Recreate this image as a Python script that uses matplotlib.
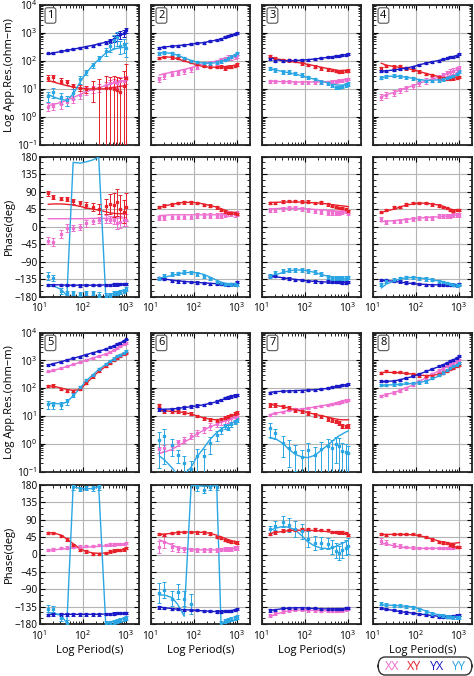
import numpy as np
import matplotlib
matplotlib.use("Agg")
import matplotlib.pyplot as plt
from matplotlib.patches import FancyBboxPatch
from matplotlib.ticker import MultipleLocator, LogLocator, NullFormatter

plt.rcParams["font.family"] = ["Open Sans", "DejaVu Sans"]
plt.rcParams["font.size"] = 7.5

# periods (s) shared by all stations
PERIODS = [16, 21, 32, 43, 60, 87, 117, 170, 234, 340, 427, 525, 617, 741, 891, 1024]
STATIONS = ["1", "2", "3", "4", "5", "6", "7", "8"]

# log10 apparent resistivity, observed / model, one row per station
rho_xx_obs = [
    [0.37, 0.40, 0.45, 0.55, 0.65, 0.80, 0.95, 1.00, 1.05, 1.15, 1.20, 1.25, 1.20, 1.30, 1.30, 1.35],
    [1.35, 1.45, 1.55, 1.58, 1.65, 1.72, 1.80, 1.88, 1.93, 1.97, 2.03, 2.08, 2.12, 2.15, 2.17, 2.20],
    [1.28, 1.28, 1.26, 1.26, 1.25, 1.25, 1.24, 1.24, 1.24, 1.25, 1.26, 1.28, 1.30, 1.32, 1.33, 1.36],
    [0.73, 0.79, 0.87, 0.96, 1.02, 1.10, 1.20, 1.29, 1.35, 1.42, 1.50, 1.56, 1.62, 1.65, 1.70, 1.74],
    [2.60, 2.65, 2.72, 2.78, 2.85, 2.93, 3.00, 3.08, 3.15, 3.22, 3.30, 3.38, 3.44, 3.50, 3.57, 3.63],
    [-0.20, -0.15, -0.10, 0.05, 0.15, 0.28, 0.40, 0.52, 0.63, 0.72, 0.80, 0.85, 0.88, 0.92, 0.95, 1.00],
    [1.04, 1.10, 1.15, 1.22, 1.24, 1.24, 1.28, 1.32, 1.36, 1.40, 1.43, 1.46, 1.48, 1.52, 1.55, 1.58],
    [1.72, 1.76, 1.84, 1.91, 2.00, 2.12, 2.24, 2.36, 2.50, 2.63, 2.70, 2.80, 2.86, 2.92, 2.96, 3.00],
]
rho_xx_mod = [
    [0.40, 0.45, 0.52, 0.60, 0.70, 0.80, 0.90, 0.98, 1.05, 1.12, 1.17, 1.21, 1.24, 1.27, 1.30, 1.32],
    [1.50, 1.55, 1.60, 1.65, 1.70, 1.76, 1.83, 1.90, 1.95, 2.00, 2.05, 2.08, 2.12, 2.15, 2.18, 2.20],
    [1.28, 1.27, 1.26, 1.26, 1.25, 1.25, 1.25, 1.25, 1.25, 1.26, 1.27, 1.29, 1.31, 1.32, 1.34, 1.36],
    [0.72, 0.80, 0.88, 0.96, 1.04, 1.12, 1.20, 1.28, 1.35, 1.42, 1.48, 1.54, 1.59, 1.64, 1.69, 1.73],
    [2.58, 2.64, 2.71, 2.78, 2.85, 2.93, 3.00, 3.08, 3.15, 3.22, 3.29, 3.36, 3.42, 3.49, 3.56, 3.62],
    [-0.34, -0.30, -0.20, -0.08, 0.05, 0.20, 0.35, 0.48, 0.60, 0.70, 0.78, 0.83, 0.87, 0.91, 0.95, 0.98],
    [1.05, 1.10, 1.15, 1.20, 1.23, 1.25, 1.28, 1.32, 1.36, 1.40, 1.43, 1.46, 1.49, 1.52, 1.55, 1.58],
    [1.72, 1.77, 1.84, 1.92, 2.01, 2.12, 2.24, 2.36, 2.49, 2.62, 2.70, 2.78, 2.85, 2.91, 2.96, 3.01],
]
rho_xy_obs = [
    [1.40, 1.42, 1.30, 1.25, 1.10, 1.05, 1.00, 1.05, 1.02, 1.05, 1.02, 1.00, 0.95, 0.90, 1.10, 1.40],
    [2.10, 2.15, 2.13, 2.10, 2.03, 1.97, 1.90, 1.82, 1.80, 1.78, 1.80, 1.74, 1.78, 1.80, 1.83, 1.88],
    [2.18, 2.10, 2.04, 2.02, 2.00, 1.92, 1.86, 1.80, 1.74, 1.70, 1.68, 1.64, 1.62, 1.63, 1.64, 1.66],
    [1.74, 1.82, 1.80, 1.82, 1.74, 1.68, 1.62, 1.54, 1.50, 1.42, 1.38, 1.37, 1.37, 1.38, 1.40, 1.44],
    [2.08, 2.09, 1.96, 1.91, 1.90, 1.96, 2.20, 2.42, 2.62, 2.80, 2.92, 3.02, 3.10, 3.16, 3.22, 3.26],
    [1.38, 1.17, 1.16, 1.16, 1.12, 1.08, 1.00, 0.92, 0.87, 0.84, 0.88, 0.93, 0.97, 1.02, 1.08, 1.12],
    [1.40, 1.40, 1.34, 1.28, 1.22, 1.16, 1.10, 1.04, 0.98, 0.90, 0.86, 0.80, 0.74, 0.64, 0.62, 0.64],
    [2.54, 2.60, 2.57, 2.57, 2.54, 2.52, 2.44, 2.42, 2.44, 2.51, 2.56, 2.63, 2.68, 2.72, 2.78, 2.84],
]
rho_xy_mod = [
    [1.30, 1.25, 1.17, 1.12, 1.07, 1.03, 1.01, 1.00, 1.00, 1.01, 1.03, 1.05, 1.07, 1.09, 1.12, 1.15],
    [2.10, 2.15, 2.13, 2.07, 2.00, 1.93, 1.86, 1.80, 1.78, 1.78, 1.79, 1.80, 1.82, 1.83, 1.85, 1.87],
    [2.15, 2.08, 2.04, 2.00, 1.96, 1.92, 1.88, 1.83, 1.78, 1.73, 1.70, 1.68, 1.66, 1.66, 1.67, 1.68],
    [1.92, 1.85, 1.80, 1.77, 1.74, 1.69, 1.63, 1.56, 1.50, 1.45, 1.42, 1.41, 1.41, 1.42, 1.43, 1.44],
    [2.08, 2.07, 2.00, 1.95, 1.92, 1.95, 2.15, 2.40, 2.60, 2.78, 2.90, 3.00, 3.08, 3.15, 3.22, 3.27],
    [1.20, 1.18, 1.16, 1.15, 1.12, 1.07, 1.00, 0.93, 0.88, 0.86, 0.87, 0.90, 0.95, 1.00, 1.05, 1.10],
    [1.42, 1.38, 1.33, 1.28, 1.22, 1.17, 1.12, 1.06, 1.01, 0.96, 0.92, 0.89, 0.87, 0.86, 0.86, 0.86],
    [2.56, 2.57, 2.56, 2.55, 2.53, 2.50, 2.47, 2.45, 2.46, 2.50, 2.55, 2.60, 2.65, 2.70, 2.76, 2.82],
]
rho_yx_obs = [
    [2.27, 2.30, 2.35, 2.38, 2.42, 2.46, 2.50, 2.55, 2.60, 2.66, 2.72, 2.80, 2.88, 2.95, 3.00, 3.10],
    [2.48, 2.51, 2.53, 2.55, 2.57, 2.60, 2.63, 2.66, 2.70, 2.75, 2.80, 2.86, 2.88, 2.92, 2.95, 2.99],
    [2.06, 2.00, 2.01, 2.02, 2.02, 2.03, 2.04, 2.06, 2.10, 2.13, 2.15, 2.18, 2.19, 2.21, 2.23, 2.24],
    [1.64, 1.65, 1.67, 1.70, 1.74, 1.80, 1.86, 1.92, 1.98, 2.01, 2.06, 2.09, 2.13, 2.16, 2.19, 2.24],
    [2.84, 2.88, 2.95, 3.00, 3.07, 3.13, 3.20, 3.27, 3.33, 3.40, 3.47, 3.53, 3.58, 3.63, 3.68, 3.75],
    [1.24, 1.22, 1.24, 1.28, 1.31, 1.34, 1.37, 1.40, 1.46, 1.52, 1.58, 1.64, 1.67, 1.70, 1.73, 1.76],
    [1.84, 1.87, 1.89, 1.91, 1.91, 1.91, 1.94, 1.94, 1.96, 2.00, 2.03, 2.06, 2.08, 2.10, 2.12, 2.15],
    [2.24, 2.24, 2.26, 2.30, 2.36, 2.42, 2.50, 2.60, 2.68, 2.78, 2.84, 2.90, 2.96, 3.02, 3.08, 3.16],
]
rho_yx_mod = [
    [2.25, 2.29, 2.34, 2.38, 2.42, 2.47, 2.51, 2.56, 2.61, 2.67, 2.72, 2.78, 2.84, 2.91, 2.98, 3.05],
    [2.47, 2.50, 2.53, 2.55, 2.57, 2.60, 2.63, 2.66, 2.70, 2.75, 2.79, 2.83, 2.87, 2.91, 2.95, 2.98],
    [2.15, 2.05, 2.01, 2.01, 2.02, 2.03, 2.05, 2.07, 2.10, 2.13, 2.15, 2.17, 2.19, 2.21, 2.23, 2.25],
    [1.63, 1.65, 1.68, 1.71, 1.75, 1.80, 1.86, 1.92, 1.97, 2.02, 2.06, 2.09, 2.12, 2.16, 2.20, 2.24],
    [2.83, 2.88, 2.95, 3.01, 3.07, 3.14, 3.20, 3.27, 3.33, 3.40, 3.46, 3.52, 3.57, 3.63, 3.69, 3.75],
    [1.24, 1.24, 1.25, 1.27, 1.30, 1.33, 1.36, 1.40, 1.45, 1.51, 1.57, 1.62, 1.66, 1.70, 1.73, 1.76],
    [1.85, 1.87, 1.89, 1.90, 1.91, 1.92, 1.93, 1.94, 1.96, 1.99, 2.02, 2.05, 2.08, 2.10, 2.12, 2.15],
    [2.23, 2.24, 2.26, 2.30, 2.36, 2.42, 2.50, 2.59, 2.68, 2.77, 2.84, 2.90, 2.96, 3.02, 3.08, 3.15],
]
rho_yy_obs = [
    [0.75, 0.90, 0.70, 0.62, 0.85, 1.35, 1.60, 1.85, 2.10, 2.35, 2.55, 2.75, 2.85, 2.55, 2.60, 2.45],
    [2.27, 2.30, 2.28, 2.20, 2.10, 2.00, 1.95, 1.92, 1.92, 1.95, 2.00, 2.05, 2.10, 2.15, 2.20, 2.28],
    [1.74, 1.68, 1.62, 1.62, 1.56, 1.50, 1.42, 1.35, 1.26, 1.20, 1.14, 1.06, 1.06, 1.10, 1.14, 1.18],
    [1.40, 1.46, 1.47, 1.46, 1.42, 1.38, 1.32, 1.29, 1.30, 1.32, 1.35, 1.38, 1.42, 1.46, 1.54, 1.62],
    [1.42, 1.40, 1.40, 1.52, 1.76, 2.03, 2.28, 2.48, 2.68, 2.86, 2.96, 3.06, 3.14, 3.20, 3.26, 3.32],
    [0.14, 0.26, -0.04, -0.40, -0.70, -0.90, -0.46, -0.45, 0.04, 0.32, 0.50, 0.62, 0.58, 0.70, 0.78, 0.86],
    [0.56, 0.38, 0.04, -0.14, -0.30, -0.48, -0.24, -0.40, -0.20, -0.10, -0.15, 0.00, -0.08, -0.25, -0.30, -0.35],
    [2.12, 2.12, 2.13, 2.14, 2.18, 2.18, 2.21, 2.24, 2.36, 2.48, 2.56, 2.66, 2.72, 2.78, 2.84, 2.90],
]
rho_yy_mod = [
    [0.80, 0.72, 0.62, 0.60, 0.82, 1.25, 1.55, 1.85, 2.05, 2.28, 2.36, 2.42, 2.45, 2.47, 2.49, 2.50],
    [2.28, 2.30, 2.27, 2.20, 2.11, 2.02, 1.96, 1.92, 1.92, 1.94, 1.98, 2.03, 2.08, 2.14, 2.20, 2.26],
    [1.72, 1.68, 1.62, 1.58, 1.53, 1.47, 1.41, 1.35, 1.28, 1.22, 1.18, 1.15, 1.14, 1.14, 1.15, 1.17],
    [1.40, 1.45, 1.46, 1.45, 1.42, 1.38, 1.34, 1.31, 1.31, 1.33, 1.36, 1.39, 1.43, 1.47, 1.53, 1.60],
    [1.45, 1.45, 1.43, 1.50, 1.72, 2.00, 2.25, 2.47, 2.67, 2.85, 2.96, 3.06, 3.13, 3.20, 3.26, 3.32],
    [-0.44, -0.58, -0.88, -1.15, -1.10, -0.85, -0.48, -0.16, 0.14, 0.40, 0.52, 0.62, 0.67, 0.74, 0.80, 0.86],
    [0.20, 0.18, 0.00, -0.20, -0.38, -0.48, -0.50, -0.42, -0.25, -0.05, 0.08, 0.20, 0.28, 0.35, 0.42, 0.46],
    [2.10, 2.11, 2.12, 2.13, 2.15, 2.17, 2.20, 2.25, 2.33, 2.43, 2.52, 2.60, 2.66, 2.72, 2.80, 2.87],
]

# phase (deg), observed / model
ph_xx_obs = [
    [-36, -39, -20, -4, -3, -2, 8, 15, 17, 20, 18, 17, 8, 12, 17, 17],
    [22, 22, 25, 25, 25, 25, 28, 28, 28, 28, 28, 30, 34, 32, 31, 34],
    [43, 43, 45, 47, 47, 45, 43, 39, 37, 35, 35, 35, 35, 37, 40, 35],
    [20, 11, 13, 15, 17, 20, 21, 23, 23, 26, 27, 28, 28, 30, 30, 30],
    [12, 13, 16, 18, 20, 21, 22, 22, 25, 25, 26, 26, 27, 28, 28, 30],
    [20, 32, 20, 15, 13, 13, 12, 12, 12, 12, 13, 14, 15, 15, 16, 17],
    [-157, -152, -148, -144, -142, -142, -144, -145, -146, -146, -146, -146, -145, -144, -142, -139],
    [36, 31, 25, 22, 20, 18, 16, 16, 16, 16, 16, 16, 17, 18, 20, 20],
]
ph_xx_mod = [
    [20, 20, 20, 20, 20, 20, 20, 21, 21, 21, 21, 22, 22, 22, 22, 23],
    [28, 29, 30, 30, 30, 30, 30, 30, 30, 30, 30, 30, 31, 32, 32, 33],
    [45, 46, 47, 47, 47, 46, 45, 44, 43, 42, 41, 40, 39, 38, 37, 36],
    [12, 14, 15, 17, 18, 20, 21, 23, 24, 25, 26, 27, 28, 29, 30, 30],
    [11, 12, 14, 15, 17, 18, 19, 20, 21, 22, 23, 24, 25, 26, 27, 28],
    [38, 33, 24, 18, 15, 13, 12, 12, 12, 12, 12, 13, 14, 15, 15, 16],
    [-161, -155, -149, -146, -144, -144, -145, -145, -146, -146, -146, -145, -145, -144, -143, -142],
    [30, 27, 22, 20, 18, 17, 16, 16, 16, 16, 16, 17, 17, 18, 18, 19],
]
ph_xy_obs = [
    [85, 75, 72, 70, 65, 60, 55, 50, 45, 52, 58, 55, 62, 45, 38, 50],
    [50, 54, 57, 60, 62, 62, 60, 56, 54, 49, 43, 39, 34, 34, 34, 33],
    [60, 60, 64, 66, 66, 64, 64, 60, 62, 57, 54, 51, 48, 48, 45, 39],
    [37, 43, 49, 51, 57, 60, 60, 60, 57, 54, 51, 47, 43, 40, 43, 43],
    [56, 56, 48, 39, 25, 12, 8, 2, 2, 4, 8, 10, 12, 12, 13, 16],
    [53, 50, 55, 57, 59, 59, 57, 57, 54, 46, 42, 37, 35, 33, 32, 31],
    [53, 57, 62, 63, 63, 65, 65, 65, 63, 63, 59, 59, 57, 57, 55, 50],
    [53, 50, 53, 53, 53, 53, 50, 46, 39, 33, 31, 29, 25, 23, 20, 20],
]
ph_xy_mod = [
    [57, 58, 58, 57, 55, 52, 48, 45, 42, 38, 35, 34, 33, 33, 33, 33],
    [50, 53, 57, 60, 62, 62, 61, 58, 54, 50, 46, 42, 39, 37, 36, 35],
    [62, 62, 63, 63, 63, 63, 62, 61, 60, 58, 56, 55, 54, 53, 52, 51],
    [36, 40, 45, 50, 55, 58, 60, 60, 58, 55, 52, 48, 45, 43, 43, 43],
    [57, 56, 50, 40, 28, 15, 8, 4, 3, 4, 6, 8, 10, 11, 13, 15],
    [52, 53, 55, 57, 58, 58, 58, 57, 55, 50, 46, 42, 39, 36, 34, 32],
    [55, 57, 60, 62, 63, 63, 63, 62, 61, 59, 58, 57, 56, 55, 54, 53],
    [52, 52, 52, 52, 52, 51, 49, 45, 40, 35, 32, 30, 29, 29, 30, 31],
]
ph_yx_obs = [
    [-150, -150, -151, -151, -151, -152, -151, -151, -151, -150, -150, -149, -149, -148, -148, -147],
    [-133, -135, -140, -141, -142, -142, -144, -146, -147, -148, -148, -148, -150, -148, -147, -143],
    [-128, -128, -133, -134, -137, -137, -140, -141, -143, -141, -143, -143, -143, -144, -144, -143],
    [-137, -137, -140, -141, -144, -146, -148, -150, -150, -150, -150, -150, -151, -151, -150, -148],
    [-157, -155, -155, -155, -155, -155, -155, -155, -155, -154, -154, -153, -152, -152, -152, -151],
    [-137, -139, -142, -142, -144, -144, -144, -146, -147, -148, -148, -147, -146, -146, -144, -142],
    [-145, -143, -139, -138, -138, -138, -139, -139, -141, -141, -141, -141, -141, -141, -139, -138],
    [-139, -142, -144, -148, -150, -152, -154, -157, -159, -161, -161, -161, -161, -159, -158, -157],
]
ph_yx_mod = [
    [-150, -150, -150, -151, -151, -151, -151, -151, -151, -150, -150, -150, -149, -149, -148, -148],
    [-133, -135, -138, -140, -141, -143, -144, -145, -146, -147, -148, -148, -148, -148, -147, -146],
    [-128, -129, -132, -134, -136, -138, -140, -141, -142, -143, -143, -144, -144, -144, -144, -144],
    [-138, -139, -141, -143, -145, -147, -148, -149, -150, -150, -150, -150, -150, -150, -150, -149],
    [-155, -155, -155, -155, -155, -155, -155, -155, -155, -154, -154, -153, -153, -152, -152, -151],
    [-136, -138, -140, -142, -143, -144, -145, -146, -147, -148, -148, -147, -146, -145, -144, -143],
    [-145, -143, -140, -139, -138, -138, -139, -140, -141, -141, -141, -141, -141, -141, -140, -139],
    [-140, -142, -145, -148, -150, -152, -154, -156, -158, -160, -160, -160, -160, -160, -159, -158],
]
ph_yy_obs = [
    [-128, -133, -165, -172, -172, -173, -172, -170, -175, -178, -176, -172, -170, -168, -165, -160],
    [-133, -127, -122, -120, -117, -118, -122, -128, -133, -143, -146, -148, -148, -148, -148, -150],
    [-128, -120, -114, -111, -111, -111, -114, -117, -122, -129, -133, -133, -133, -133, -133, -131],
    [-148, -140, -137, -133, -131, -131, -133, -135, -137, -141, -143, -146, -148, -150, -151, -150],
    [-140, -142, -165, -178, 174, 170, 172, 171, 174, -178, -176, -174, -172, -170, -168, -165],
    [-100, -92, -114, -96, -114, -128, 174, 168, 175, 176, -178, -172, -170, -168, -165, -162],
    [65, 75, 85, 76, 66, 60, 40, 30, 30, 28, 20, 10, 5, 12, 18, 22],
    [-128, -130, -133, -133, -135, -137, -142, -148, -154, -157, -159, -161, -161, -163, -163, -163],
]
ph_yy_mod = [
    [-152, -153, -162, -178, 165, 163, 166, 171, 178, -178, -175, -172, -170, -168, -165, -162],
    [-133, -130, -126, -122, -119, -118, -119, -123, -130, -138, -143, -146, -148, -148, -148, -148],
    [-128, -124, -118, -114, -112, -112, -114, -118, -123, -128, -131, -133, -134, -134, -134, -134],
    [-158, -148, -140, -135, -132, -131, -132, -134, -137, -140, -143, -146, -148, -149, -150, -150],
    [-150, -152, -158, -178, 176, 171, 170, 171, 176, -179, -176, -173, -170, -168, -166, -163],
    [-105, -105, -112, -130, -160, 178, 178, 177, 177, 178, -178, -176, -174, -172, -170, -168],
    [63, 68, 73, 70, 64, 48, 33, 22, 17, 15, 17, 21, 25, 29, 33, 37],
    [-130, -131, -132, -133, -134, -136, -140, -146, -152, -156, -158, -160, -160, -160, -160, -160],
]

# relative errors of app. resistivity (fraction of rho); scalar = same at all periods
err_rho_xx = [0.3, 0.2, 0.12, 0.22, 0.06, 0.25, 0.1, 0.12]
err_rho_xy = [
    [0.25, 0.25, 0.2, 0.2, 0.2, 0.25, 0.3, 0.7, 1.2, 1.5, 1.6, 1.8, 2.0, 2.2, 2.5, 2.0],
    0.1, 0.1, 0.1, 0.1, 0.12, 0.15, 0.08,
]
err_rho_yx = [
    [0.08, 0.08, 0.08, 0.08, 0.08, 0.08, 0.08, 0.08, 0.1, 0.1, 0.15, 0.25, 0.3, 0.3, 0.3, 0.2],
    0.08, 0.08, 0.08, 0.08, 0.1, 0.08, 0.08,
]
err_rho_yy = [
    [0.4, 0.4, 0.4, 0.4, 0.4, 0.3, 0.2, 0.2, 0.2, 0.3, 0.4, 0.5, 0.5, 0.5, 0.5, 0.5],
    0.12, 0.15, 0.12,
    [0.3, 0.3, 0.3, 0.25, 0.15, 0.1, 0.1, 0.1, 0.1, 0.1, 0.1, 0.1, 0.1, 0.1, 0.1, 0.1],
    [0.9, 0.9, 0.6, 0.5, 0.8, 0.9, 0.8, 0.8, 0.6, 0.4, 0.3, 0.2, 0.2, 0.2, 0.15, 0.15],
    [0.5, 0.4, 0.7, 0.8, 0.8, 0.8, 0.9, 0.9, 0.9, 0.9, 0.9, 0.8, 0.9, 0.9, 0.9, 0.9],
    0.1,
]
# phase errors (deg)
err_ph_xx = [
    [10, 10, 10, 10, 8, 8, 8, 8, 8, 10, 10, 10, 15, 15, 15, 15],
    6, 5, 5, 3,
    [15, 15, 10, 8, 6, 5, 5, 5, 5, 5, 5, 5, 5, 5, 5, 5],
    4,
    [8, 6, 5, 4, 3, 3, 3, 3, 3, 3, 3, 3, 3, 3, 3, 3],
]
err_ph_xy = [
    [6, 5, 5, 5, 6, 6, 8, 10, 12, 20, 25, 30, 35, 35, 30, 35],
    3, 3, 3, 3, 3, 3, 3,
]
err_ph_yx = [3, 3, 3, 3, 3, 3, 3, 3]
err_ph_yy = [
    [10, 8, 8, 5, 5, 5, 5, 5, 6, 6, 5, 5, 5, 5, 5, 5],
    4, 5, 4,
    [8, 8, 8, 8, 6, 6, 6, 6, 6, 5, 5, 5, 5, 5, 5, 5],
    [25, 20, 20, 20, 20, 25, 10, 10, 8, 8, 5, 5, 5, 5, 5, 5],
    [10, 12, 15, 18, 20, 20, 20, 18, 15, 15, 18, 20, 18, 20, 20, 20],
    4,
]

COMPONENTS = ["XX", "XY", "YX", "YY"]
COLORS = {"XX": "#ee6fd0", "XY": "#e8202a", "YX": "#1a1ac8", "YY": "#2aa6e4"}

W, H = 474, 676
COL_LEFT = [39.5, 150.5, 261.5, 372.5]
COL_W = 99.5
ROWS = [(5, 145), (156.5, 296.5), (332.5, 471.5), (485, 624)]
XLIM = (10, 2000)


def px_axes(fig, left, top, bottom):
    return fig.add_axes([left / W, 1 - bottom / H, COL_W / W, (bottom - top) / H])


def style_axes(ax):
    ax.set_xscale("log")
    ax.set_xlim(*XLIM)
    ax.xaxis.set_major_locator(LogLocator(base=10, numticks=10))
    ax.xaxis.set_minor_locator(LogLocator(base=10, subs=np.arange(2, 10), numticks=10))
    ax.xaxis.set_minor_formatter(NullFormatter())
    ax.grid(True, which="major", color="#b4b4b4", lw=0.8)
    ax.set_axisbelow(True)
    ax.tick_params(which="both", direction="in", top=True, right=True, labelsize=7.2)
    ax.tick_params(axis="x", pad=3.5)
    ax.tick_params(axis="y", pad=1.5)
    ax.tick_params(which="major", length=3.5, width=0.8)
    ax.tick_params(which="minor", length=2, width=0.6)
    for s in ax.spines.values():
        s.set_linewidth(1.3)
        s.set_color("#222222")


def as_list(e):
    return np.full(len(PERIODS), e, dtype=float) if np.isscalar(e) else np.asarray(e, float)


T = np.array(PERIODS, dtype=float)
rho_sets = {
    "XX": (rho_xx_obs, rho_xx_mod, err_rho_xx),
    "XY": (rho_xy_obs, rho_xy_mod, err_rho_xy),
    "YX": (rho_yx_obs, rho_yx_mod, err_rho_yx),
    "YY": (rho_yy_obs, rho_yy_mod, err_rho_yy),
}
ph_sets = {
    "XX": (ph_xx_obs, ph_xx_mod, err_ph_xx),
    "XY": (ph_xy_obs, ph_xy_mod, err_ph_xy),
    "YX": (ph_yx_obs, ph_yx_mod, err_ph_yx),
    "YY": (ph_yy_obs, ph_yy_mod, err_ph_yy),
}

fig = plt.figure(figsize=(W / 100, H / 100), dpi=100)

for k, name in enumerate(STATIONS):
    col = k % 4
    block = k // 4
    top_r, bot_r = ROWS[2 * block]
    top_p, bot_p = ROWS[2 * block + 1]
    ax_r = px_axes(fig, COL_LEFT[col], top_r, bot_r)
    ax_p = px_axes(fig, COL_LEFT[col], top_p, bot_p)
    style_axes(ax_r)
    style_axes(ax_p)

    for comp in COMPONENTS:
        c = COLORS[comp]
        obs, mod, err = rho_sets[comp]
        rho = 10.0 ** np.array(obs[k])
        e = as_list(err[k])
        lo = rho - np.maximum(rho * (1 - e), 1e-4)
        hi = rho * e
        ax_r.plot(T, 10.0 ** np.array(mod[k]), color=c, lw=1.0, zorder=3)
        ax_r.errorbar(T, rho, yerr=[lo, hi], fmt="s", ms=1.8, color=c, mec=c,
                      elinewidth=0.7, capsize=1.3, capthick=0.7, zorder=4)

        obs, mod, err = ph_sets[comp]
        ax_p.plot(T, mod[k], color=c, lw=1.0, zorder=3)
        ax_p.errorbar(T, obs[k], yerr=as_list(err[k]), fmt="s", ms=1.8, color=c, mec=c,
                      elinewidth=0.7, capsize=1.3, capthick=0.7, zorder=4)

    ax_r.set_yscale("log")
    ax_r.set_ylim(0.1, 1e4)
    ax_r.yaxis.set_major_locator(LogLocator(base=10, numticks=10))
    ax_r.yaxis.set_minor_locator(LogLocator(base=10, subs=np.arange(2, 10), numticks=10))
    ax_r.yaxis.set_minor_formatter(NullFormatter())
    ax_r.tick_params(labelbottom=False)

    ax_p.set_ylim(-180, 180)
    ax_p.yaxis.set_major_locator(MultipleLocator(45))
    ax_p.yaxis.set_minor_locator(MultipleLocator(15))

    if col == 0:
        ax_r.set_ylabel("Log App.Res.(ohm\u2212m)", fontsize=8, labelpad=2)
        ax_p.set_ylabel("Phase(deg)", fontsize=8, labelpad=0)
    else:
        ax_r.tick_params(labelleft=False)
        ax_p.tick_params(labelleft=False)
    if block == 1:
        ax_p.set_xlabel("Log Period(s)", fontsize=8, labelpad=2)

    ax_r.text(0.11, 0.925, name, transform=ax_r.transAxes, fontsize=8,
              ha="center", va="center", zorder=6,
              bbox=dict(boxstyle="round,pad=0.2", fc="white", ec="#555555", lw=0.8))

# legend box at the bottom right
box = FancyBboxPatch((378 / W, 1 - 675 / H), 94 / W, 18 / H,
                     boxstyle="round,pad=0,rounding_size=0.015",
                     transform=fig.transFigure, fc="white", ec="#333333", lw=1.0)
fig.patches.append(box)
for comp, xp in zip(COMPONENTS, [392, 414, 437, 459]):
    fig.text(xp / W, 1 - 666 / H, comp, color=COLORS[comp], fontsize=9,
             ha="center", va="center")

fig.savefig("out.png", dpi=100)
